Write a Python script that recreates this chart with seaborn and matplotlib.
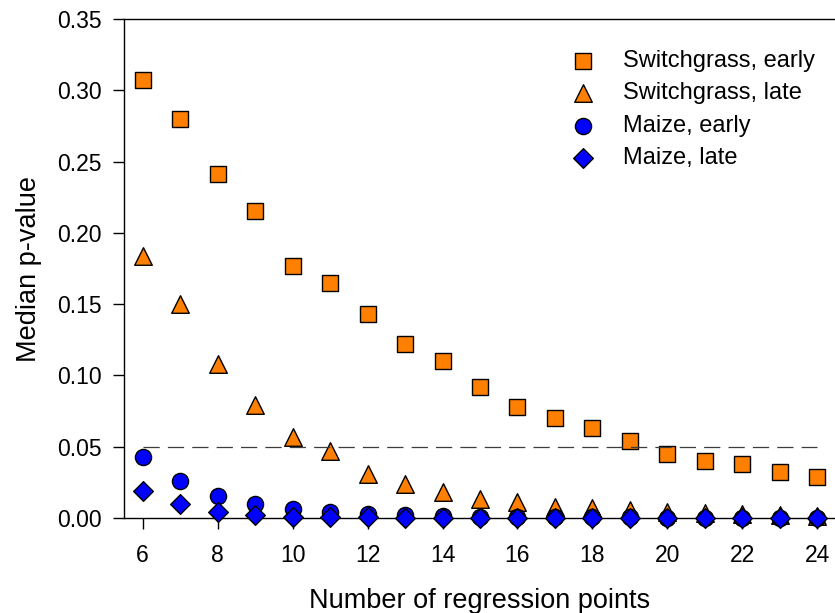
import matplotlib
matplotlib.use("Agg")
import matplotlib.pyplot as plt
import seaborn as sns
import numpy as np

# Number of regression points used for each fit
n_points = list(range(6, 25))

# Median p-values per crop / sampling period
switchgrass_early = [0.307, 0.280, 0.241, 0.215, 0.177, 0.165, 0.143, 0.122, 0.110, 0.092,
                     0.078, 0.070, 0.063, 0.054, 0.045, 0.040, 0.038, 0.032, 0.029]
switchgrass_late = [0.184, 0.150, 0.108, 0.079, 0.057, 0.047, 0.031, 0.024, 0.018, 0.013,
                    0.011, 0.008, 0.007, 0.0056, 0.0045, 0.0035, 0.0025, 0.002, 0.0015]
maize_early = [0.043, 0.026, 0.0154, 0.0098, 0.0066, 0.0044, 0.003, 0.002, 0.0015, 0.001,
               0.0008, 0.0006, 0.0005, 0.0004, 0.0003, 0.0003, 0.0002, 0.0002, 0.0001]
maize_late = [0.0191, 0.0096, 0.0044, 0.002, 0.001, 0.0006, 0.0004, 0.0003, 0.0002, 0.0001,
              0.0001, 0.0001, 0.0001, 0.0, 0.0, 0.0, 0.0, 0.0, 0.0]

significance = 0.05

series = [
    ("Switchgrass, early", switchgrass_early, "s", "#FF8000", 130),
    ("Switchgrass, late", switchgrass_late, "^", "#FF8000", 160),
    ("Maize, early", maize_early, "o", "#0000FF", 135),
    ("Maize, late", maize_late, "D", "#0000FF", 100),
]

sns.set_style("ticks")
plt.rcParams["font.family"] = ["Liberation Sans", "DejaVu Sans"]
plt.rcParams["text.color"] = "black"
plt.rcParams["axes.labelcolor"] = "black"

fig = plt.figure(figsize=(8.35, 6.13), dpi=100)
ax = fig.add_axes([124 / 835, 95 / 613, 712 / 835, 499 / 613])

for i, (label, vals, marker, color, size) in enumerate(series):
    sns.scatterplot(x=n_points, y=vals, marker=marker, color=color, s=size,
                    edgecolor="black", linewidth=1.0, label=label, ax=ax,
                    clip_on=False, zorder=3 + i)

ax.hlines(significance, n_points[0], n_points[-1], colors="#3c3c3c",
          linestyles=(0, (13, 6.5)), linewidth=0.9, zorder=8)

ax.set_xlim(5.5, 24.5)
ax.set_ylim(0, 0.35)
ax.set_xticks(range(6, 25, 2))
ax.set_yticks(np.arange(0, 0.351, 0.05))
ax.yaxis.set_major_formatter(matplotlib.ticker.FormatStrFormatter("%.2f"))

for side in ("left", "bottom", "top"):
    ax.spines[side].set_visible(True)
    ax.spines[side].set_color("black")
    ax.spines[side].set_linewidth(1.0)
ax.spines["right"].set_visible(False)

ax.tick_params(axis="y", direction="out", length=8, width=1, pad=8,
               labelsize=16.5, colors="black")
ax.tick_params(axis="x", direction="out", length=8, width=1, pad=11,
               labelsize=16.5, colors="black")

ax.set_xlabel("Number of regression points", fontsize=19.5, labelpad=15)
ax.set_ylabel("Median p-value", fontsize=19.5, labelpad=11)

leg = ax.legend(loc="upper left", bbox_to_anchor=(571 / 835, 1 - 50 / 613),
                bbox_transform=fig.transFigure, frameon=False, fontsize=17,
                handlelength=1.0, handletextpad=1.2, labelspacing=0.44,
                borderpad=0, borderaxespad=0)
for t in leg.get_texts():
    t.set_color("black")

fig.savefig("out.png", dpi=100)
